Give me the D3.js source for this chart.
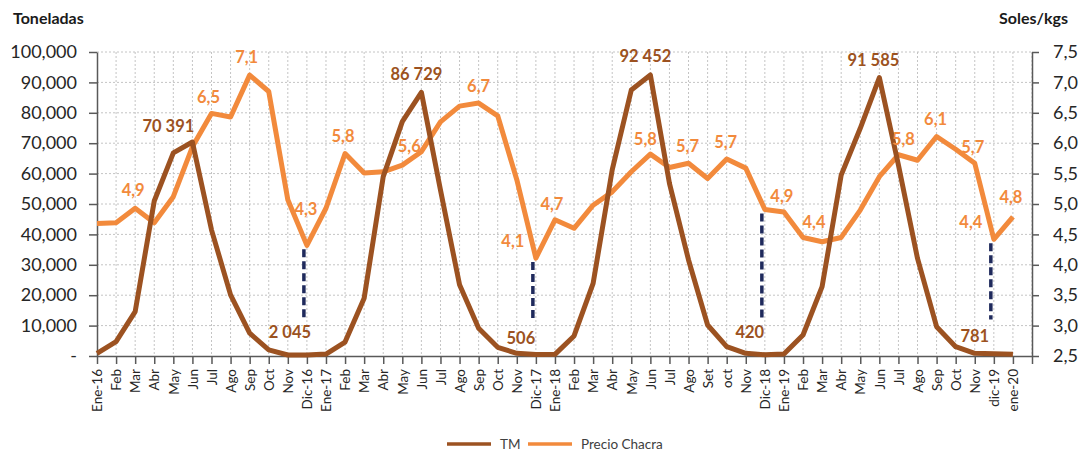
<!DOCTYPE html>
<html>
<head>
<meta charset="utf-8">
<script src="https://cdn.jsdelivr.net/npm/d3@7"></script>
<style>
  body { margin: 0; background: #fff; }
  text { font-family: Lato, "Noto Sans", sans-serif; }
</style>
</head>
<body>
<svg id="chart" width="1088" height="452"></svg>
<script>
// months on the x axis (Ene-16 .. ene-20)
var months = ["Ene-16","Feb","Mar","Abr","May","Jun","Jul","Ago","Sep","Oct","Nov","Dic-16",
  "Ene-17","Feb","Mar","Abr","May","Jun","Jul","Ago","Sep","Oct","Nov","Dic-17",
  "Ene-18","Feb","Mar","Abr","May","Jun","Jul","Ago","Set","oct","Nov","Dic-18",
  "Ene-19","Feb","Mar","Abr","May","Jun","Jul","Ago","Sep","Oct","Nov","dic-19",
  "ene-20"];

// toneladas (left axis)
var tm = [900, 4700, 14600, 51000, 66800, 70391, 41500, 20100, 7500, 2000, 330, 300,
  650, 4600, 19000, 59000, 77100, 86729, 54600, 23400, 9100, 2850, 880, 506,
  550, 6600, 23900, 61200, 87500, 92452, 56800, 31600, 10200, 3060, 880, 420,
  650, 6900, 22800, 59500, 74900, 91585, 62800, 32100, 9650, 3060, 880, 781,
  560];

// precio chacra, soles/kg (right axis)
var precio = [4.68, 4.69, 4.93, 4.69, 5.12, 5.94, 6.49, 6.43, 7.12, 6.85, 5.07, 4.32,
  4.93, 5.83, 5.51, 5.53, 5.64, 5.86, 6.35, 6.61, 6.66, 6.45, 5.40, 4.11,
  4.74, 4.60, 4.98, 5.20, 5.53, 5.82, 5.60, 5.67, 5.42, 5.74, 5.59, 4.91,
  4.87, 4.45, 4.38, 4.45, 4.90, 5.45, 5.81, 5.72, 6.11, 5.90, 5.67, 4.42,
  4.79];

var leftTicks = [0, 10000, 20000, 30000, 40000, 50000, 60000, 70000, 80000, 90000, 100000];
var rightTicks = [2.5, 3.0, 3.5, 4.0, 4.5, 5.0, 5.5, 6.0, 6.5, 7.0, 7.5];

// data labels
var tmLabelIdx = [5, 11, 17, 23, 29, 35, 41, 47];
var tmLabelText = ["70 391", "2 045", "86 729", "506", "92 452", "420", "91 585", "781"];
var precioLabelIdx = [2, 6, 8, 11, 13, 16, 20, 23, 24, 29, 31, 33, 35, 37, 42, 44, 46, 47, 48];
var precioLabelText = ["4,9", "6,5", "7,1", "4,3", "5,8", "5,6", "6,7", "4,1", "4,7", "5,8",
  "5,7", "5,7", "4,9", "4,4", "5,8", "6,1", "5,7", "4,4", "4,8"];
var markIdx = [11, 23, 35, 47]; // dashed markers at december

// label offsets (layout only)
var tmLabelOff = [[-24,-10],[-17,-17],[-5,-12],[-15,-10],[-5,-13],[-15,-17],[-6,-12],[-19,-12]];
var precioLabelOff = [[-2,-12],[-3,-10],[-3,-12],[-1,-30],[-2,-12],[7,-13],[0,-11],[-23,-11],
  [-3,-10],[-5,-9],[-1,-11],[-1,-11],[17,-7],[11,-9],[5,-10],[-1,-12],[-2,-10],[-23,-11],[-2,-14]];

var colTM = "#9C5221";
var colPrecio = "#F28A3C";

let svg = d3.select("#chart");

let margin = { top: 52, right: 56, bottom: 96, left: 97 };
let plotWidth = 1088 - margin.left - margin.right;   // 935
let plotHeight = 452 - margin.top - margin.bottom;   // 304

let plot = svg.append("g").attr("id", "plot")
  .attr("transform", "translate(" + margin.left + "," + margin.top + ")");

// one extra empty slot after ene-20, like the original
var x = d3.scaleLinear().domain([0, months.length]).range([0, plotWidth]);
var yL = d3.scaleLinear().domain([0, 100000]).range([plotHeight, 0]);
var yR = d3.scaleLinear().domain([2.5, 7.5]).range([plotHeight, 0]);

// grid
plot.append("g").selectAll("line.h")
  .data(leftTicks.slice(1))
  .enter().append("line")
  .attr("x1", 0).attr("x2", plotWidth)
  .attr("y1", d => yL(d)).attr("y2", d => yL(d))
  .attr("stroke", "#c4c4c4").attr("stroke-width", 1)
  .attr("stroke-dasharray", "2,2");

plot.append("g").selectAll("line.v")
  .data(d3.range(1, months.length + 1))
  .enter().append("line")
  .attr("x1", d => x(d)).attr("x2", d => x(d))
  .attr("y1", 0).attr("y2", plotHeight)
  .attr("stroke", "#c4c4c4").attr("stroke-width", 1)
  .attr("stroke-dasharray", "2,2");

// axes
var fmtL = function(d) { return d == 0 ? "-" : d3.format(",")(d); };
var fmtR = function(d) { return d3.format(".1f")(d).replace(".", ","); };

let yAxisL = d3.axisLeft(yL).tickValues(leftTicks).tickFormat(fmtL).tickSizeInner(8).tickSizeOuter(0).tickPadding(12);
let yGroupL = plot.append("g").attr("id", "y-axis-left").call(yAxisL);
yGroupL.selectAll("text").style("font-size", "18px").attr("fill", "#262626");

let yAxisR = d3.axisRight(yR).tickValues(rightTicks).tickFormat(fmtR).tickSizeInner(7).tickSizeOuter(0).tickPadding(14);
let yGroupR = plot.append("g").attr("id", "y-axis-right")
  .attr("transform", "translate(" + plotWidth + ",0)").call(yAxisR);
yGroupR.selectAll("text").style("font-size", "18px").attr("fill", "#262626");

let xAxis = d3.axisBottom(x).tickValues(d3.range(0, months.length + 1))
  .tickFormat(d => months[d] || "").tickSizeInner(8).tickSizeOuter(0);
let xGroup = plot.append("g").attr("id", "x-axis")
  .attr("transform", "translate(0," + plotHeight + ")").call(xAxis);
xGroup.selectAll("text")
  .style("font-size", "13.5px").attr("fill", "#262626")
  .style("text-anchor", "end")
  .attr("dy", "0.35em")
  .attr("transform", "rotate(-90)")
  .attr("x", -13).attr("y", 0);

svg.selectAll(".domain, .tick line").attr("stroke", "#595959").attr("stroke-width", 1.5);

// lines
var linePrecio = d3.line().x((d, i) => x(i)).y(d => yR(d));
var lineTM = d3.line().x((d, i) => x(i)).y(d => yL(d));

plot.append("path")
  .attr("d", linePrecio(precio))
  .attr("fill", "none").attr("stroke", colPrecio)
  .attr("stroke-width", 5).attr("stroke-linejoin", "round");

plot.append("path")
  .attr("d", lineTM(tm))
  .attr("fill", "none").attr("stroke", colTM)
  .attr("stroke-width", 5).attr("stroke-linejoin", "round");

// dashed markers
plot.append("g").selectAll("line")
  .data(markIdx)
  .enter().append("line")
  .attr("x1", d => x(d) - 3).attr("x2", d => x(d) - 3)
  .attr("y1", d => yR(precio[d]) + 4).attr("y2", yL(12000))
  .attr("stroke", "#1F2A5C").attr("stroke-width", 3.5)
  .attr("stroke-dasharray", "8,4");

// data labels
plot.append("g").selectAll("text")
  .data(tmLabelIdx)
  .enter().append("text")
  .attr("x", (d, i) => x(d) + tmLabelOff[i][0])
  .attr("y", (d, i) => yL(tm[d]) + tmLabelOff[i][1])
  .attr("text-anchor", "middle")
  .style("font-size", "16.5px").style("font-weight", "bold")
  .attr("fill", colTM)
  .text((d, i) => tmLabelText[i]);

plot.append("g").selectAll("text")
  .data(precioLabelIdx)
  .enter().append("text")
  .attr("x", (d, i) => x(d) + precioLabelOff[i][0])
  .attr("y", (d, i) => yR(precio[d]) + precioLabelOff[i][1])
  .attr("text-anchor", "middle")
  .style("font-size", "16.5px").style("font-weight", "bold")
  .attr("fill", colPrecio)
  .text((d, i) => precioLabelText[i]);

// axis titles
svg.append("text")
  .attr("x", 13).attr("y", 24)
  .style("font-size", "16px").style("font-weight", "bold")
  .attr("fill", "#1a1a1a")
  .text("Toneladas");

svg.append("text")
  .attr("x", 1068).attr("y", 24)
  .attr("text-anchor", "end")
  .style("font-size", "16px").style("font-weight", "bold")
  .attr("fill", "#1a1a1a")
  .text("Soles/kgs");

// legend
var legend = svg.append("g").attr("transform", "translate(447,444)");
var legendItems = [{ name: "TM", color: colTM, x: 0 }, { name: "Precio Chacra", color: colPrecio, x: 81 }];
var li = legend.selectAll("g").data(legendItems).enter().append("g")
  .attr("transform", d => "translate(" + d.x + ",0)");
li.append("line").attr("x1", 0).attr("x2", 44).attr("y1", 0).attr("y2", 0)
  .attr("stroke", d => d.color).attr("stroke-width", 3.5);
li.append("text").attr("x", 53).attr("y", 0).attr("dy", "0.35em")
  .style("font-size", "13.5px").attr("fill", "#404040")
  .text(d => d.name);
</script>
</body>
</html>
